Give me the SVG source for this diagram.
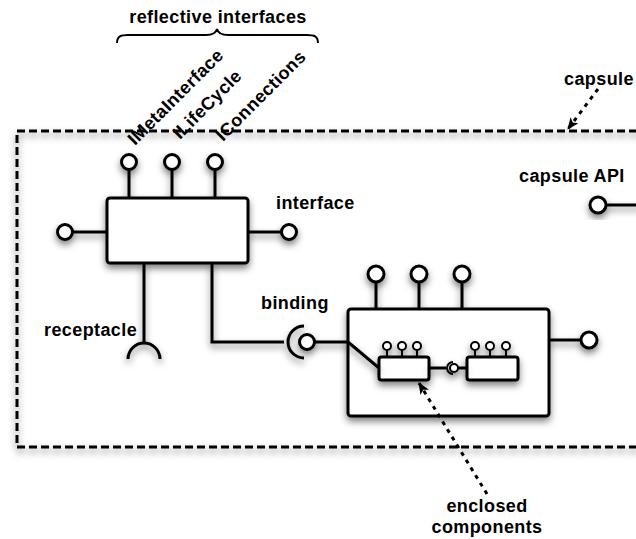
<svg xmlns="http://www.w3.org/2000/svg" width="636" height="539" viewBox="0 0 636 539">
  <style>
    .lbl { font-family: "Liberation Sans", Arial, sans-serif; font-weight: bold; font-size: 18px; letter-spacing: 0.4px; fill: #000; }
    .mid { text-anchor: middle; }
    .box { fill: #fff; stroke: #000; stroke-width: 3; }
    .ln { fill: none; stroke: #000; stroke-width: 3; }
    .lol { fill: #fff; stroke: #000; stroke-width: 3; }
    .thin { fill: none; stroke: #000; stroke-width: 2; }
    .lols { fill: #fff; stroke: #000; stroke-width: 2; }
    .frame { fill: none; stroke: #000; stroke-width: 3; stroke-dasharray: 8 4; }
    .dots { fill: none; stroke: #000; stroke-width: 3; stroke-dasharray: 4 5; }
  </style>
  <defs>
    <filter id="shadow" x="-20%" y="-20%" width="140%" height="160%">
      <feDropShadow dx="0" dy="4" stdDeviation="3.5" flood-color="#000" flood-opacity="0.5"/>
    </filter>
    <marker id="arrow" viewBox="0 0 12 10" refX="11" refY="5" markerWidth="12" markerHeight="10" markerUnits="userSpaceOnUse" orient="auto">
      <path d="M0,0 L12,5 L0,10 L3,5 z" fill="#000"/>
    </marker>
  </defs>

  <rect width="636" height="539" fill="#fff"/>

  <!-- capsule boundary -->
  <g id="capsule" filter="url(#shadow)">
    <rect class="frame" x="17" y="131" width="650" height="316"/>
  </g>

  <!-- capsule API -->
  <g id="capsule-api" filter="url(#shadow)">
    <line class="ln" x1="606" y1="205" x2="640" y2="205"/>
    <circle class="lol" cx="598" cy="205" r="8"/>
  </g>

  <!-- outer component with reflective interfaces -->
  <g id="component" filter="url(#shadow)">
    <line class="ln" x1="129" y1="170" x2="129" y2="198"/>
    <line class="ln" x1="172" y1="170" x2="172" y2="198"/>
    <line class="ln" x1="215" y1="170" x2="215" y2="198"/>
    <circle class="lol" cx="129" cy="162" r="7.5"/>
    <circle class="lol" cx="172" cy="162" r="7.5"/>
    <circle class="lol" cx="215" cy="162" r="7.5"/>
    <line class="ln" x1="72" y1="232" x2="107" y2="232"/>
    <circle class="lol" cx="65" cy="232" r="7.5"/>
    <line class="ln" x1="248" y1="232" x2="282" y2="232"/>
    <circle class="lol" cx="289" cy="232" r="7.5"/>
    <rect class="box" x="107" y="198" width="141" height="65" rx="3"/>
  </g>

  <!-- receptacle -->
  <g id="receptacle" filter="url(#shadow)">
    <line class="ln" x1="144" y1="263" x2="144" y2="343"/>
    <path class="ln" d="M128,359 A16,16 0 0 1 160,359"/>
  </g>

  <!-- composite component -->
  <g id="composite" filter="url(#shadow)">
    <line class="ln" x1="376" y1="282" x2="376" y2="309"/>
    <line class="ln" x1="419" y1="282" x2="419" y2="309"/>
    <line class="ln" x1="462" y1="282" x2="462" y2="309"/>
    <circle class="lol" cx="376" cy="274" r="8"/>
    <circle class="lol" cx="419" cy="274" r="8"/>
    <circle class="lol" cx="462" cy="274" r="8"/>
    <line class="ln" x1="549" y1="340" x2="581" y2="340"/>
    <circle class="lol" cx="589" cy="340" r="8"/>
    <rect class="box" x="348" y="309" width="201" height="107" rx="3"/>
  </g>

  <!-- enclosed components -->
  <g id="inner-a" filter="url(#shadow)">
    <line class="thin" x1="387" y1="350" x2="387" y2="357"/>
    <line class="thin" x1="402" y1="350" x2="402" y2="357"/>
    <line class="thin" x1="417" y1="350" x2="417" y2="357"/>
    <circle class="lols" cx="387" cy="346" r="4"/>
    <circle class="lols" cx="402" cy="346" r="4"/>
    <circle class="lols" cx="417" cy="346" r="4"/>
    <rect class="box" x="379" y="357" width="50" height="23" rx="2.5"/>
  </g>
  <g id="inner-b" filter="url(#shadow)">
    <line class="thin" x1="475" y1="350" x2="475" y2="357"/>
    <line class="thin" x1="490" y1="350" x2="490" y2="357"/>
    <line class="thin" x1="506" y1="350" x2="506" y2="357"/>
    <circle class="lols" cx="475" cy="346" r="4"/>
    <circle class="lols" cx="490" cy="346" r="4"/>
    <circle class="lols" cx="506" cy="346" r="4"/>
    <rect class="box" x="467" y="357" width="51" height="23" rx="2.5"/>
  </g>

  <!-- connectors -->
  <g id="connectors">
    <g filter="url(#shadow)">
      <!-- binding from outer component to composite -->
      <polyline class="ln" points="212,263 212,342 284,342"/>
      <path class="ln" d="M304,326 A16,16 0 0 0 304,358"/>
      <circle class="lol" cx="307" cy="342" r="7.5"/>
      <line class="ln" x1="315" y1="342" x2="348" y2="342"/>
      <!-- delegation to inner component -->
      <line class="ln" x1="348" y1="342" x2="379" y2="368"/>
      <!-- binding between inner components -->
      <line class="ln" x1="429" y1="368" x2="446" y2="368"/>
      <path class="thin" d="M453,362 A6,6 0 0 0 453,374"/>
      <circle class="lols" cx="454" cy="368" r="4"/>
      <line class="ln" x1="458" y1="368" x2="467" y2="368"/>
    </g>
    <!-- annotation arrows -->
    <line class="dots" x1="487" y1="494" x2="419" y2="383" marker-end="url(#arrow)"/>
    <line class="dots" x1="598" y1="89" x2="568" y2="129" marker-end="url(#arrow)"/>
    <!-- brace over reflective interfaces -->
    <path class="thin" d="M117,43 C117,36 121,35 128,35 L206,35 C213,35 216,33 217,29 C218,33 221,35 228,35 L307,35 C314,35 318,36 318,43" stroke-width="1.6"/>
  </g>

  <!-- labels -->
  <text class="lbl mid" x="218" y="23">reflective interfaces</text>
  <text class="lbl" transform="translate(135,146) rotate(-45)">IMetaInterface</text>
  <text class="lbl" transform="translate(180,140) rotate(-45)">ILifeCycle</text>
  <text class="lbl" transform="translate(223,142) rotate(-45)">IConnections</text>
  <text class="lbl" x="564" y="85">capsule</text>
  <text class="lbl" x="519" y="182">capsule API</text>
  <text class="lbl" x="276" y="209">interface</text>
  <text class="lbl" x="261" y="309">binding</text>
  <text class="lbl" x="44" y="336">receptacle</text>
  <text class="lbl mid" x="487" y="512">enclosed</text>
  <text class="lbl mid" x="487" y="533">components</text>
</svg>
